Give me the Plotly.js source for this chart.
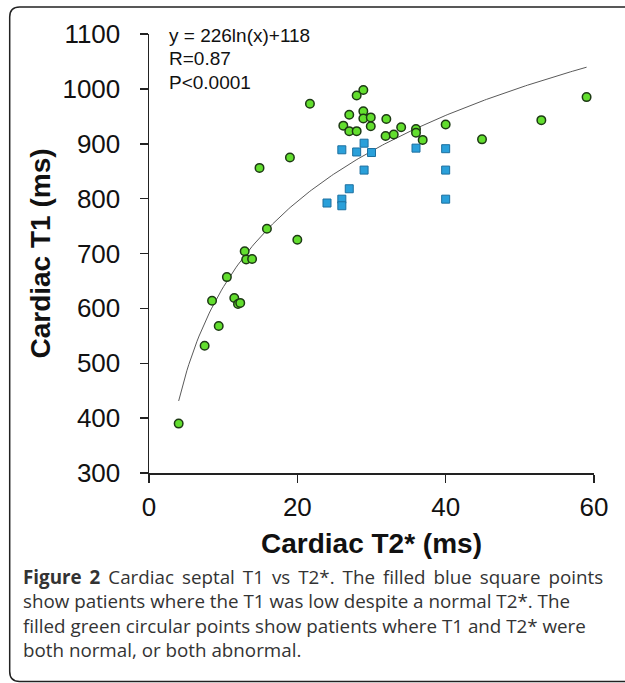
<!DOCTYPE html>
<html>
<head>
<meta charset="utf-8">
<script src="https://cdn.plot.ly/plotly-3.0.1.min.js"></script>
<style>
  html, body { margin: 0; padding: 0; background: #ffffff; }
  #chart { width: 625px; height: 683px; }
</style>
</head>
<body>
<div id="chart"></div>
<script>
// ---- Data ----
// Green circles: T1 and T2* both normal, or both abnormal
const greenT2 = [4, 7.5, 9.4, 8.5, 10.5, 11.5, 12, 12.3, 12.9, 13.1, 13.9, 15.9, 20, 14.9, 19, 21.7,
                 28.9, 28, 27, 28.9, 28.9, 29.9, 29.9, 32, 26.2, 27, 28, 31.9, 33, 34, 36, 36, 36.9,
                 40, 44.9, 52.9, 59];
const greenT1 = [390, 532, 568, 614, 657, 619, 608, 610, 704, 689, 690, 745, 725, 856, 875, 973,
                 998, 988, 953, 959, 946, 948, 932, 945, 933, 923, 923, 914, 917, 930, 927, 920, 907,
                 935, 908, 943, 985];
// Blue squares: T1 low despite a normal T2*
const blueT2 = [26, 29, 28, 30, 29, 27, 24, 26, 26, 36, 40, 40, 40];
const blueT1 = [889, 901, 885, 884, 852, 818, 792, 799, 787, 892, 891, 852, 799];
// Fitted curve y = a ln(x) + b
const fitA = 226, fitB = 118;
const fitXStart = 4, fitXEnd = 59;
const xTicks = [0, 20, 40, 60];
const yTicks = [300, 400, 500, 600, 700, 800, 900, 1000, 1100];
const statLines = ["y = 226ln(x)+118", "R=0.87", "P<0.0001"];
const captionLines = [
  "<b>Figure 2</b> Cardiac septal T1 vs T2*. The filled blue square points",
  "show patients where the T1 was low despite a normal T2*. The",
  "filled green circular points show patients where T1 and T2* were",
  "both normal, or both abnormal."
];

// fit curve samples
const fitX = [], fitY = [];
for (let i = 0; i <= 200; i++) {
  const x = fitXStart + (fitXEnd - fitXStart) * i / 200;
  fitX.push(x); fitY.push(fitA * Math.log(x) + fitB);
}

// ---- Layout geometry (pixels) ----
const W = 625, H = 683;
const M = { l: 149.3, r: 30.7, t: 34, b: 210.3 };
const PW = W - M.l - M.r, PH = H - M.t - M.b;
const px = x => (x - M.l) / PW;          // pixel x -> paper
const py = y => (H - M.b - y) / PH;      // pixel y -> paper

const axisColor = '#222222';
const tickFont = { family: 'Liberation Sans, Arial, sans-serif', size: 26, color: '#111111' };
const titleFont = { family: 'Liberation Sans, Arial, sans-serif', size: 28, color: '#111111', weight: 'bold' };

const traces = [
  { x: fitX, y: fitY, mode: 'lines', type: 'scatter', hoverinfo: 'skip',
    line: { color: '#5a5a5a', width: 1 }, showlegend: false },
  { x: blueT2, y: blueT1, mode: 'markers', type: 'scatter', showlegend: false,
    marker: { symbol: 'square', size: 8, color: '#2aa0da', line: { color: '#1c6f9f', width: 1 } } },
  { x: greenT2, y: greenT1, mode: 'markers', type: 'scatter', showlegend: false,
    marker: { symbol: 'circle', size: 8.5, color: '#62de2e', line: { color: '#1d3a14', width: 1.5 } } }
];

const annotations = [];
statLines.forEach((t, i) => {
  annotations.push({ xref: 'paper', yref: 'paper', x: px(167), y: py(35 + i * 23.5),
    xanchor: 'left', yanchor: 'middle', showarrow: false, text: t,
    font: { family: 'Liberation Sans, Arial, sans-serif', size: 19, color: '#111111' } });
});
// caption: one multi-line text block; first line widened (justified in the reference)
const captionText = captionLines
  .map((t, i) => i === 0 ? t.replace(/ (?![^<]*>)/g, ' \u2009') : t)
  .join('<br>');
annotations.push({ xref: 'paper', yref: 'paper', x: px(21), y: py(613.5),
  xanchor: 'left', yanchor: 'middle', showarrow: false, text: captionText, align: 'left',
  font: { family: 'Open Sans, Noto Sans, sans-serif', size: 18.8, color: '#333333' } });

const r = 10;
const borderPath = [
  'M', px(650), py(7),
  'L', px(10 + r), py(7),
  'Q', px(10), py(7), px(10), py(7 + r),
  'L', px(10), py(681 - r),
  'Q', px(10), py(681), px(10 + r), py(681),
  'L', px(650), py(681)
].join(' ');

const layout = {
  width: W, height: H,
  margin: M,
  paper_bgcolor: '#ffffff', plot_bgcolor: '#ffffff',
  showlegend: false,
  xaxis: {
    range: [0, 60], tickvals: xTicks, ticktext: xTicks.map(String),
    showgrid: false, zeroline: false, showline: true, linecolor: axisColor, linewidth: 1.5,
    ticks: 'outside', ticklen: 8, tickwidth: 1.5, tickcolor: axisColor,
    tickfont: tickFont, ticklabelstandoff: 2,
    title: { text: 'Cardiac T2* (ms)', font: titleFont, standoff: 12 }
  },
  yaxis: {
    range: [300, 1100], tickvals: yTicks, ticktext: yTicks.map(String),
    showgrid: false, zeroline: false, showline: true, linecolor: axisColor, linewidth: 1.5,
    ticks: 'outside', ticklen: 8, tickwidth: 1.5, tickcolor: axisColor,
    tickfont: tickFont, ticklabelstandoff: 14,
    title: { text: 'Cardiac T1 (ms)', font: titleFont, standoff: 3 }
  },
  annotations: annotations,
  shapes: [{ type: 'path', xref: 'paper', yref: 'paper', path: borderPath,
             line: { color: '#222222', width: 1.5 } }]
};

Plotly.newPlot('chart', traces, layout, { staticPlot: true, displayModeBar: false });
</script>
</body>
</html>
